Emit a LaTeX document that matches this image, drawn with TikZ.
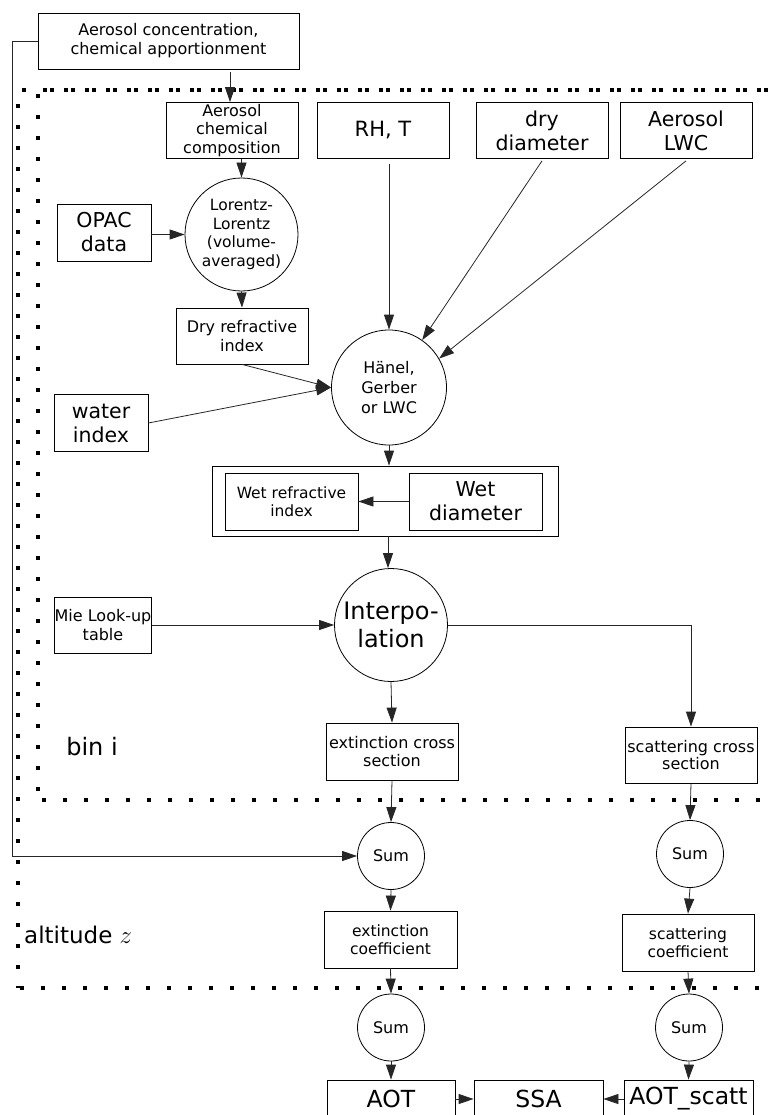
\documentclass[tikz,border=0pt]{standalone}
\usepackage{fontspec}
\setmainfont{DejaVu Sans}
\usetikzlibrary{arrows.meta}
\newcommand\myfs[2]{\fontsize{#1}{#2}\selectfont}
\begin{document}
\begin{tikzpicture}[x=1pt,y=-1pt,
  box/.style={draw=black, line width=0.8pt, inner sep=0pt, align=center,
    minimum width=132pt, minimum height=56pt, font=\myfs{16}{18.5}},
  narrow/.style={minimum width=94pt, minimum height=57pt},
  big/.style={font=\myfs{20.5}{24}},
  circ/.style={draw=black, line width=0.8pt, circle, minimum size=113pt, inner sep=0pt, align=center},
  sumc/.style={draw=black, line width=0.8pt, circle, minimum size=67pt, inner sep=0pt, font=\myfs{16}{18}},
  arr/.style={draw=black!85, line width=0.8pt, -{Triangle[length=15pt,width=10pt]}},
  dotline/.style={line width=4pt, dash pattern=on 4pt off 17pt, line cap=butt},
  bottombox/.style={box, minimum height=38pt, font=\myfs{23.5}{26}}
]
\useasboundingbox (0,0) rectangle (773,1115);
\clip (0,0) rectangle (773,1115);

% dotted frames
\draw[dotline] (22,90) -- (773,90);
\draw[dotline] (50,90) -- (773,90);
\draw[dotline] (18,104) -- (18,988);
\draw[dotline] (38,94) -- (38,800);
\draw[dotline] (42,800) -- (773,800);
\draw[dotline] (20,988) -- (773,988);

% nodes
\node[box, minimum width=261pt, font=\myfs{16}{19}] (top) at (168.5,41) {Aerosol concentration,\\chemical apportionment};
\node[box] (chem) at (232,130.5) {Aerosol\\chemical\\composition};
\node[box, font=\myfs{21}{24}] (rht) at (383,130.5) {RH, T};
\node[box, big] (dry) at (542,130.5) {dry\\diameter};
\node[box, big] (lwc) at (686,130.5) {Aerosol\\LWC};
\node[box, narrow, big] (opac) at (104,232.5) {OPAC\\data};
\node[circ, font=\myfs{15.5}{18.5}] (lor) at (241.5,234.5) {Lorentz-\\Lorentz\\(volume-\\averaged)};
\node[box, font=\myfs{16}{19.5}] (dryri) at (242,336) {Dry refractive\\index};
\node[box, narrow, big] (water) at (101,423) {water\\index};
\node[circ, minimum size=115pt, font=\myfs{16}{20}] (hanel) at (389,387.5) {Hänel,\\Gerber\\or LWC};
\node[draw=black, line width=0.8pt, minimum width=346pt, minimum height=70pt, inner sep=0pt] (wetbox) at (385,501) {};
\node[box, minimum width=133pt, minimum height=57pt, font=\myfs{15.5}{18.5}] (wetri) at (291.5,501.5) {Wet refractive\\index};
\node[box, minimum width=133pt, minimum height=57pt, big] (wetd) at (475.5,501.5) {Wet\\diameter};
\node[circ, font=\myfs{24}{28}] (interp) at (391,625) {Interpo-\\lation};
\node[box, narrow, minimum height=56pt, font=\myfs{16}{19}] (mie) at (103,625) {Mie Look-up\\table};
\node[box, minimum width=132pt, minimum height=57pt, font=\myfs{16}{17.5}] (extcs) at (392,751.5) {extinction cross\\section};
\node[box, minimum width=132pt, minimum height=56pt, font=\myfs{16}{17.5}] (scatcs) at (691,755) {scattering cross\\section};
\node[font=\myfs{24}{28}] (bini) at (92,747) {bin i};
\node[sumc] (sum1) at (391,856) {Sum};
\node[sumc] (sum2) at (690,854) {Sum};
\node[box, minimum width=133pt, minimum height=57pt, font=\myfs{15.5}{18.5}] (extco) at (390.5,939.5) {extinction\\coefficient};
\node[box, minimum width=132pt, minimum height=57pt, font=\myfs{15.5}{18.5}] (scatco) at (688,942.5) {scattering\\coefficient};
\node[anchor=west, inner sep=0pt, font=\myfs{23}{26}] (alt) at (24,935) {altitude $z$};
\node[sumc] (sum3) at (391,1027.5) {Sum};
\node[sumc] (sum4) at (689,1027.5) {Sum};
\node[bottombox, minimum width=128pt] (aot) at (391,1099) {AOT};
\node[bottombox, minimum width=129pt] (ssa) at (538.5,1099) {SSA};
\node[bottombox, minimum width=129pt] (aots) at (688.5,1099) {AOT\_scatt};

% connectors
\coordinate (lc1) at (12,41);
\coordinate (lc2) at (12,856);
\draw[arr] (top.west) -- (lc1) -- (lc2) -- (sum1.west);
\draw[arr] ([xshift=-2pt,yshift=-3pt]chem.north |- top.south) -- ([xshift=-2pt]chem.north);
\draw[arr] (lor.north |- chem.south) -- (lor.north);
\draw[arr] (opac.east |- lor.west) -- (lor.west);
\draw[arr] (lor.south) -- (dryri.north);
\draw[arr] (dryri.south) -- (hanel.west);
\draw[arr] (water.east) -- (hanel.west);
\draw[arr] ([yshift=-5pt]rht.south -| hanel.north) -- (hanel.north);
\draw[arr] ([yshift=-2pt]dry.south) -- (hanel.55);
\draw[arr] ([yshift=-2pt]lwc.south) -- (hanel.30);
\draw[arr] (hanel.south) -- (hanel.south |- wetbox.north);
\draw[arr] (wetd.west) -- (wetri.east);
\draw[arr] ([xshift=-3pt]wetbox.south -| interp.north) -- ([xshift=-3pt]interp.north);
\draw[arr] (mie.east) -- (interp.west);
\draw[arr] (interp.east) -| (scatcs.north);
\draw[arr] (interp.south) -- (extcs.north);
\draw[arr] (extcs.south) -- (sum1.north);
\draw[arr] (scatcs.south) -- (sum2.north);
\draw[arr] (sum1.south) -- (extco.north);
\draw[arr] (sum2.south) -- (scatco.north);
\draw[arr] (extco.south) -- (sum3.north);
\draw[arr] (scatco.south) -- (sum4.north);
\draw[arr] (sum3.south) -- (aot.north);
\draw[arr] (sum4.south) -- (aots.north);
\draw[arr] (aot.east) -- (ssa.west);
\draw[arr] (aots.west) -- (ssa.east);
\end{tikzpicture}
\end{document}
